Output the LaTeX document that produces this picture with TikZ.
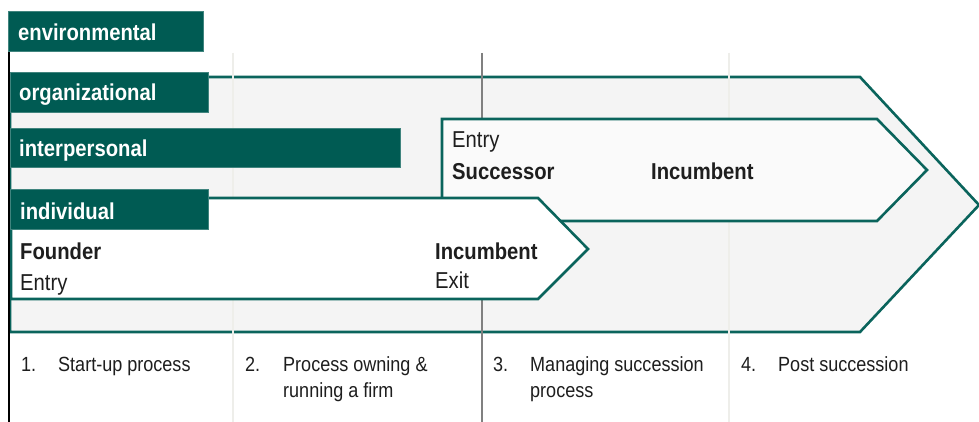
\documentclass[tikz,border=0pt]{standalone}
\usepackage{fontspec}
\setmainfont[FakeStretch=0.88]{Liberation Sans}
\definecolor{tealdk}{RGB}{0,91,83}
\definecolor{tealln}{RGB}{10,100,92}
\definecolor{bggray}{RGB}{244,244,244}
\definecolor{sucfill}{RGB}{250,250,250}
\definecolor{gridfaint}{RGB}{238,238,234}
\definecolor{griddark}{RGB}{128,128,128}
\definecolor{txt}{RGB}{30,30,30}
\begin{document}
\begin{tikzpicture}[x=1pt,y=-1pt,
  layerbox/.style={fill=tealdk, draw=tealdk!75!white, line width=0.6pt, inner sep=0pt, anchor=north west},
  boxlabel/.style={text=white, font=\fontsize{23}{27}\selectfont\bfseries, anchor=base west, inner sep=0pt},
  arrowshape/.style={draw=tealln, line width=2.6pt, line join=miter},
  role/.style={text=txt, font=\fontsize{23}{27}\selectfont\bfseries, anchor=base west, inner sep=0pt},
  event/.style={text=txt, font=\fontsize{23}{27}\selectfont, anchor=base west, inner sep=0pt},
  phase/.style={text=txt, font=\fontsize{20.5}{26}\selectfont, anchor=base west, inner sep=0pt, align=left},
]
\useasboundingbox[fill=white] (0,0) rectangle (979,422);

% outer arrow
\draw[arrowshape, fill=bggray] (10,77) -- (860,77) -- (979,205) -- (860,332) -- (10,332) -- cycle;

% phase separators
\draw[gridfaint, line width=1.5pt] (233,53) -- (233,422);
\draw[gridfaint, line width=1.5pt] (729,53) -- (729,422);
\draw[griddark, line width=1.8pt] (482,53) -- (482,422);

% successor arrow
\draw[arrowshape, fill=sucfill] (442,119) -- (877,119) -- (927,170) -- (877,221) -- (442,221) -- cycle;
% founder arrow
\draw[arrowshape, fill=white] (11,198) -- (538,198) -- (588,249) -- (538,299) -- (11,299) -- cycle;

% left axis
\draw[black, line width=2.4pt] (9,11) -- (9,422);

% layer boxes
\node[layerbox, minimum width=195pt, minimum height=40pt] (envbox) at (8,11) {};
\node[layerbox, minimum width=198pt, minimum height=40pt] (orgbox) at (10,72) {};
\node[layerbox, minimum width=390pt, minimum height=39pt] (intbox) at (10,128) {};
\node[layerbox, minimum width=198pt, minimum height=40pt] (indbox) at (10,189) {};

\node[boxlabel] (envlab) at (18,41) {environmental};
\node[boxlabel] (orglab) at (19,101) {organizational};
\node[boxlabel] (intlab) at (19,157) {interpersonal};
\node[boxlabel] (indlab) at (20,219) {individual};

% roles and events
\node[role] (founder) at (20,259) {Founder};
\node[event] (fentry) at (20,290) {Entry};
\node[role] (incumb1) at (435,259) {Incumbent};
\node[event] (exit) at (435,288) {Exit};
\node[event] (sentry) at (452,148) {Entry};
\node[role] (success) at (452,180) {Successor};
\node[role] (incumb2) at (651,180) {Incumbent};

% phases
\node[phase] (n1) at (21,371) {1.};
\node[phase] (p1) at (58,371) {Start-up process};
\node[phase] (n2) at (245,371) {2.};
\node[phase] (p2) at (283,397) {Process owning \&\\running a firm};
\node[phase] (n3) at (493,371) {3.};
\node[phase] (p3) at (530,397) {Managing succession\\process};
\node[phase] (n4) at (741,371) {4.};
\node[phase] (p4) at (778,371) {Post succession};
\end{tikzpicture}
\end{document}
